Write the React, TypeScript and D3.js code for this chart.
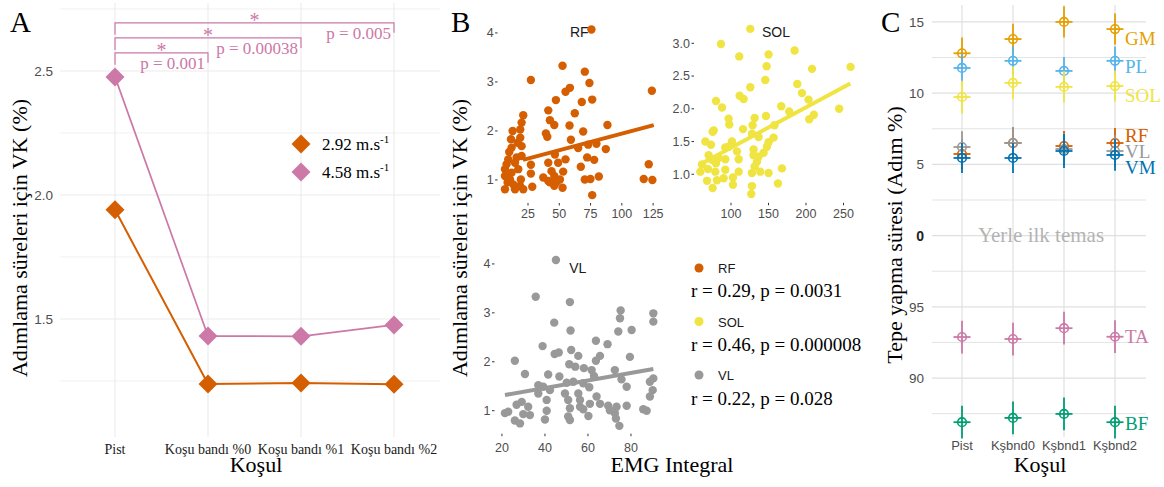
import React from "react";
import * as d3 from "d3";

// ---------------- Panel A data ----------------
const conditionsA = ["Pist", "Koşu bandı %0", "Koşu bandı %1", "Koşu bandı %2"];
const speedLabels = ["2.92", "4.58"];
const cvSlow = [1.94, 1.238, 1.242, 1.237];
const cvFast = [2.476, 1.431, 1.43, 1.476];
const yTicksA = [1.5, 2.0, 2.5];
const yMinorA = [1.25, 1.75, 2.25, 2.75];
const sigFrom = [0, 0, 0];
const sigTo = [1, 2, 3];
const sigLevel = [2.573, 2.633, 2.694];
const sigText = ["p = 0.001", "p = 0.00038", "p = 0.005"];

// ---------------- Panel B data ----------------
const rfX = [75.7, 52.6, 27.3, 70.4, 74.1, 58.5, 55, 124, 47.3, 68, 76.3, 62.4, 41.2, 21.2, 42.5, 46, 58.2, 88.5, 69.1, 39.3, 40.4, 19.9, 18.8, 12.7, 11.4, 18.8, 59.3, 73.1, 79.7, 65.1, 87.2, 10.0, 19.9, 46.5, 41.2, 49.1, 55, 72.3, 77.9, 27.3, 67.2, 121.5, 7.9, 14.6, 17.2, 27.3, 43.8, 53.1, 37.2, 81.6, 70.4, 74.9, 117.5, 124.4, 42.5, 47.8, 52.6, 28.4, 76.3, 6.6, 6.6, 6.6, 10.6, 11.9, 13.2, 14.6, 18.6, 19.3, 19.9, 15.9, 9.2, 41.2, 46, 46, 50.5, 21.2, 8.7, 16.7, 11.9];
const rfY = [4.07, 3.33, 3.04, 3.21, 2.98, 2.88, 2.80, 2.82, 2.63, 2.59, 2.64, 2.36, 2.42, 2.32, 2.22, 2.12, 2.11, 2.12, 1.99, 1.95, 1.88, 2.17, 2.03, 2.0, 1.83, 1.86, 1.82, 1.72, 1.74, 1.65, 1.63, 1.57, 1.69, 1.52, 1.35, 1.35, 1.42, 1.46, 1.41, 1.31, 1.27, 1.32, 1.32, 1.35, 1.22, 1.13, 1.18, 1.17, 1.05, 1.07, 1.01, 1.02, 1.02, 1.0, 0.95, 0.96, 0.84, 0.86, 0.69, 1.22, 1.08, 0.81, 1.01, 1.15, 0.91, 0.81, 0.88, 1.01, 1.49, 1.46, 1.42, 0.98, 1.08, 0.88, 1.01, 0.81, 0.95, 1.76, 1.66];
const solX = [125.7, 86.6, 111, 150.1, 184.8, 147.5, 208, 259.4, 145.7, 125.7, 188.4, 194.6, 111.5, 116.8, 203.4, 80, 88, 167, 177.6, 244.2, 210.5, 204.3, 96.8, 97.7, 131.5, 146.6, 128.8, 116, 158, 76.9, 75.5, 65.8, 73.3, 101.3, 92.4, 128, 136.8, 156.8, 150.1, 147.9, 143.5, 130.1, 108, 70.2, 83.5, 92.4, 110.2, 130.1, 134.6, 80, 61.3, 69.3, 59.1, 79.1, 92.4, 131.5, 139, 150.1, 167.9, 127.9, 68, 75.5, 90.2, 102.6, 102.6, 127.9, 127, 162.6, 81.3, 110.2, 74.6, 136.8, 96.8];
const solY = [3.22, 2.99, 2.80, 2.83, 2.89, 2.65, 2.61, 2.64, 2.44, 2.33, 2.38, 2.24, 2.20, 2.15, 2.14, 2.12, 2.02, 2.04, 1.96, 2.00, 1.91, 1.84, 1.85, 1.76, 1.86, 1.89, 1.75, 1.69, 1.75, 1.67, 1.65, 1.50, 1.45, 1.50, 1.41, 1.62, 1.57, 1.56, 1.49, 1.42, 1.33, 1.38, 1.35, 1.29, 1.25, 1.23, 1.23, 1.29, 1.19, 1.17, 1.15, 1.08, 1.04, 1.04, 1.07, 1.12, 1.04, 1.02, 1.09, 1.02, 0.90, 0.79, 0.94, 0.95, 0.84, 0.82, 0.70, 0.86, 0.91, 1.04, 1.22, 1.27, 1.42];
const vlX = [45.1, 35.7, 51.6, 44.3, 51.9, 75.2, 74.9, 90.4, 90.4, 80.3, 74.1, 38.9, 63.7, 69.1, 44.5, 46.4, 52.2, 55.5, 65.6, 63.7, 26, 79.5, 51.3, 54.1, 58.1, 61.7, 72.5, 30.7, 41.5, 46.7, 62.8, 75.6, 90.4, 88.8, 36.9, 39.2, 50.1, 53.2, 57.8, 60.6, 36.9, 42.3, 49.3, 55.5, 78, 90.1, 88.8, 40.8, 50.8, 56.3, 64, 29.2, 26.8, 32.2, 60.9, 65.6, 69.4, 73.3, 78, 40.8, 51.6, 56.3, 21.4, 22.9, 33, 29.9, 70.2, 72.5, 85.7, 87.3, 26, 28.4, 40, 50.8, 51.6, 60.2, 73, 74.6, 57.8];
const vlY = [4.08, 3.33, 3.22, 2.80, 2.64, 3.05, 2.89, 2.99, 2.82, 2.65, 2.62, 2.32, 2.43, 2.36, 2.16, 2.19, 2.24, 2.12, 2.12, 2.02, 2.02, 2.10, 1.95, 1.90, 1.87, 1.83, 1.83, 1.75, 1.74, 1.70, 1.71, 1.64, 1.66, 1.59, 1.52, 1.49, 1.57, 1.59, 1.56, 1.48, 1.35, 1.42, 1.35, 1.35, 1.49, 1.42, 1.29, 1.22, 1.22, 1.22, 1.29, 1.18, 1.12, 1.08, 1.14, 1.14, 1.10, 1.08, 1.10, 1.00, 1.05, 1.08, 0.95, 0.98, 0.91, 0.93, 1.01, 0.95, 1.03, 1.00, 0.80, 0.74, 0.82, 0.88, 0.81, 0.89, 0.84, 0.69, 1.03];
// regression fits: [intercept, slope], x span
const rfFit = [1.266, 0.0068];
const rfFitSpan = [21, 125.5];
const solFit = [0.79, 0.00616];
const solFitSpan = [61, 259];
const vlFit = [1.156, 0.00768];
const vlFitSpan = [21.4, 90.4];
const rfXTicks = [25, 50, 75, 100, 125];
const rfYTicks = [1, 2, 3, 4];
const solXTicks = [100, 150, 200, 250];
const solYTicks = [1.0, 1.5, 2.0, 2.5, 3.0];
const vlXTicks = [20, 40, 60, 80];
const vlYTicks = [1, 2, 3, 4];
const corrMuscles = ["RF", "SOL", "VL"];
const corrText = ["r = 0.29, p = 0.0031", "r = 0.46, p = 0.000008", "r = 0.22, p = 0.028"];

// ---------------- Panel C data ----------------
const conditionsC = ["Pist", "Kşbnd0", "Kşbnd1", "Kşbnd2"];
const musclesC = ["GM", "PL", "SOL", "RF", "VL", "VM", "TA", "BF"];
const gmMean = [12.8, 13.8, 15.0, 14.5];
const plMean = [11.77, 12.27, 11.56, 12.27];
const solMean = [9.73, 10.72, 10.44, 10.5];
const rfMean = [5.73, 6.5, 6.29, 6.5];
const vlMean = [6.22, 6.5, 6.08, 5.94];
const vmMean = [5.45, 5.45, 5.94, 5.66];
const taMean = [92.88, 92.74, 93.5, 92.9];
const bfMean = [86.9, 87.2, 87.48, 86.9];
const gmSd = [1.1, 1.08, 1.1, 1.1];
const plSd = [1.0, 1.0, 0.98, 1.0];
const solSd = [1.15, 1.15, 1.1, 1.1];
const rfSd = [1.05, 1.1, 1.05, 1.05];
const vlSd = [1.1, 1.1, 1.1, 1.1];
const vmSd = [1.05, 1.05, 1.2, 1.1];
const taSd = [1.15, 1.15, 1.15, 1.15];
const bfSd = [1.15, 1.15, 1.15, 1.15];
const yTicksC = [-10, -5, 0, 5, 10, 15];
const yMinorC = [-12.5, -7.5, -2.5, 2.5, 7.5, 12.5];

// ---------------- styling ----------------
const SERIF = "'Liberation Serif', 'Times New Roman', serif";
const SANS = "'Liberation Sans', Arial, sans-serif";
const C_RF = "#D55E00";
const C_PINK = "#CC79A7";
const muscleColor: Record<string, string> = {
  GM: "#E69F00", PL: "#56B4E9", SOL: "#F0E442", RF: "#D55E00",
  VL: "#999999", VM: "#0072B2", TA: "#CC79A7", BF: "#009E73",
};
const TICK_GREY = "#4D4D4D";

const diamond = (s: number) => `M0,${-s}L${s},0L0,${s}L${-s},0Z`;

type ScatterProps = {
  xs: number[]; ys: number[]; color: string;
  xDom: number[]; xRange: number[]; yDom: number[]; yRange: number[];
  xTicks: number[]; yTicks: number[]; yFmt: (v: number) => string;
  fit: number[]; fitSpan: number[]; label: string; labelY: number; tickBaseline: number;
};

function Scatter(p: ScatterProps) {
  const x = d3.scaleLinear().domain(p.xDom).range(p.xRange);
  const y = d3.scaleLinear().domain(p.yDom).range(p.yRange);
  const line = d3.line<number>().x((v) => x(v)).y((v) => y(p.fit[0] + p.fit[1] * v));
  const left = p.xRange[0];
  const bottom = p.yRange[0];
  return (
    <g>
      {p.yTicks.map((t) => (
        <g key={"y" + t}>
          <text x={left - 5} y={y(t)} dy="0.35em" textAnchor="end" fontFamily={SANS} fontSize={12.5} fill={TICK_GREY}>
            {p.yFmt(t)}
          </text>
          <line x1={left - 3.5} x2={left - 1} y1={y(t)} y2={y(t)} stroke="#333" strokeWidth={1} />
        </g>
      ))}
      {p.xTicks.map((t) => (
        <g key={"x" + t}>
          <line x1={x(t)} x2={x(t)} y1={bottom + 1} y2={bottom + 3.5} stroke="#333" strokeWidth={1} />
          <text x={x(t)} y={p.tickBaseline} textAnchor="middle" fontFamily={SANS} fontSize={12.5} fill={TICK_GREY}>
            {t}
          </text>
        </g>
      ))}
      <text x={(p.xRange[0] + p.xRange[1]) / 2} y={p.labelY} textAnchor="middle" fontFamily={SANS} fontSize={14} fill="#1A1A1A">
        {p.label}
      </text>
      {p.xs.map((v, i) => (
        <circle key={i} cx={x(v)} cy={y(p.ys[i])} r={4.2} fill={p.color} />
      ))}
      <path d={line(p.fitSpan) || ""} stroke={p.color} strokeWidth={4} fill="none" />
    </g>
  );
}

export default function App() {
  const W = 1164, H = 487;

  // ---- Panel A scales
  const xA = d3.scalePoint<string>().domain(conditionsA).range([115, 394]);
  const yA = d3.scaleLinear().domain([1.024, 2.774]).range([437, 3]);
  const plotA = { l: 60, r: 440, t: 3, b: 437 };
  const lineA = d3.line<number>().x((_, i) => xA(conditionsA[i]) as number).y((v) => yA(v));

  // ---- Panel C scales
  const xC = d3.scalePoint<string>().domain(conditionsC).range([962, 1115]);
  const yC = d3.scaleLinear().domain([-14.35, 16.19]).range([440, 5]);
  const cy = (v: number) => yC(v > 50 ? v - 100 : v);
  const plotC = { l: 932, r: 1146, t: 5, b: 437 };
  const meansC = [gmMean, plMean, solMean, rfMean, vlMean, vmMean, taMean, bfMean];
  const sdsC = [gmSd, plSd, solSd, rfSd, vlSd, vmSd, taSd, bfSd];
  const labelNudgeC = [9.4, 5.6, 9.4, -7.5, 0.5, 12.5, 0, 1.4];

  const legendA = [cvSlow, cvFast];
  const colorsA = [C_RF, C_PINK];

  return (
    <svg width={W} height={H} style={{ position: "absolute", left: 0, top: 0, background: "#fff" }}>
      <rect x={0} y={0} width={W} height={H} fill="#fff" />

      {/* ================= PANEL A ================= */}
      <g>
        {yMinorA.map((t) => (
          <line key={"mn" + t} x1={plotA.l} x2={plotA.r} y1={yA(t)} y2={yA(t)} stroke="#EDEDED" strokeWidth={0.8} />
        ))}
        {yTicksA.map((t) => (
          <line key={"mj" + t} x1={plotA.l} x2={plotA.r} y1={yA(t)} y2={yA(t)} stroke="#EBEBEB" strokeWidth={1.1} />
        ))}
        {conditionsA.map((c) => (
          <line key={"vg" + c} x1={xA(c)} x2={xA(c)} y1={plotA.t} y2={plotA.b} stroke="#EBEBEB" strokeWidth={1.1} />
        ))}
        {yTicksA.map((t) => (
          <text key={"yl" + t} x={53} y={yA(t)} dy="0.35em" textAnchor="end" fontFamily={SANS} fontSize={13.5} fill={TICK_GREY}>
            {t.toFixed(1)}
          </text>
        ))}
        {conditionsA.map((c) => (
          <text key={"xl" + c} x={xA(c)} y={454} textAnchor="middle" fontFamily={SERIF} fontSize={14} fill="#1A1A1A">
            {c}
          </text>
        ))}
        <text x={256} y={472} textAnchor="middle" fontFamily={SERIF} fontSize={22} fill="#000">Koşul</text>
        <text transform={`translate(27,238) rotate(-90)`} textAnchor="middle" fontFamily={SERIF} fontSize={22} fill="#000">
          Adımlama süreleri için VK  (%)
        </text>
        <text x={10} y={32} fontFamily={SERIF} fontSize={29} fill="#000">A</text>

        {/* significance brackets */}
        {sigFrom.map((f, i) => {
          const x1 = xA(conditionsA[f]) as number;
          const x2 = xA(conditionsA[sigTo[i]]) as number;
          const yy = yA(sigLevel[i]);
          return (
            <g key={"sig" + i}>
              <path d={`M${x1},${yy + 12}V${yy}H${x2}V${yy + 10}`} fill="none" stroke={C_PINK} strokeWidth={1.2} />
              <text x={(x1 + x2) / 2} y={yy + 4} textAnchor="middle" fontFamily={SERIF} fontSize={20} fill={C_PINK}>*</text>
              <text x={x2 - 3} y={yy + 16} textAnchor="end" fontFamily={SERIF} fontSize={17} fill={C_PINK}>{sigText[i]}</text>
            </g>
          );
        })}

        {/* lines and points */}
        {legendA.map((vals, k) => (
          <g key={"ser" + k}>
            <path d={lineA(vals) || ""} fill="none" stroke={colorsA[k]} strokeWidth={k === 0 ? 2 : 1.7} />
            {vals.map((v, i) => (
              <path key={i} d={diamond(9.5)} transform={`translate(${xA(conditionsA[i])},${yA(v)})`} fill={colorsA[k]} />
            ))}
          </g>
        ))}

        {/* legend */}
        {speedLabels.map((s, k) => (
          <g key={"lg" + s}>
            <path d={diamond(9.5)} transform={`translate(301,${144 + k * 28})`} fill={colorsA[k]} />
            <text x={322} y={150 + k * 28} fontFamily={SERIF} fontSize={17} fill="#000">
              {s} m.s<tspan dy={-7} fontSize={11}>-1</tspan>
            </text>
          </g>
        ))}
      </g>

      {/* ================= PANEL B ================= */}
      <g>
        <text x={451} y={32} fontFamily={SERIF} fontSize={29} fill="#000">B</text>
        <text transform={`translate(467,238) rotate(-90)`} textAnchor="middle" fontFamily={SERIF} fontSize={22} fill="#000">
          Adımlama süreleri için VK  (%)
        </text>
        <text x={672} y={472} textAnchor="middle" fontFamily={SERIF} fontSize={22} fill="#000">EMG Integral</text>

        <Scatter xs={rfX} ys={rfY} color={muscleColor.RF}
          xDom={[1.5, 130.5]} xRange={[498.6, 660]} yDom={[0.55, 4.25]} yRange={[202, 20.7]}
          xTicks={rfXTicks} yTicks={rfYTicks} yFmt={(v) => String(v)}
          fit={rfFit} fitSpan={rfFitSpan} label="RF" labelY={37} tickBaseline={218} />
        <Scatter xs={solX} ys={solY} color={muscleColor.SOL}
          xDom={[52, 268]} xRange={[695, 857]} yDom={[0.58, 3.33]} yRange={[201.8, 21.7]}
          xTicks={solXTicks} yTicks={solYTicks} yFmt={(v) => v.toFixed(1)}
          fit={solFit} fitSpan={solFitSpan} label="SOL" labelY={37} tickBaseline={218} />
        <Scatter xs={vlX} ys={vlY} color={muscleColor.VL}
          xDom={[17, 93.5]} xRange={[495.5, 660]} yDom={[0.55, 4.25]} yRange={[432.7, 251.7]}
          xTicks={vlXTicks} yTicks={vlYTicks} yFmt={(v) => String(v)}
          fit={vlFit} fitSpan={vlFitSpan} label="VL" labelY={273} tickBaseline={452} />

        {corrMuscles.map((m, k) => (
          <g key={"cl" + m}>
            <circle cx={699} cy={268 + k * 53.5} r={4.5} fill={muscleColor[m]} />
            <text x={718} y={273 + k * 53.5} fontFamily={SANS} fontSize={13} fill="#1A1A1A">{m}</text>
            <text x={691} y={297 + k * 54} fontFamily={SERIF} fontSize={19} fill="#000">{corrText[k]}</text>
          </g>
        ))}
      </g>

      {/* ================= PANEL C ================= */}
      <g>
        {yMinorC.map((t) => (
          <line key={"cmn" + t} x1={plotC.l} x2={plotC.r} y1={yC(t)} y2={yC(t)} stroke="#E3E3E3" strokeWidth={1} />
        ))}
        {yTicksC.map((t) => (
          <line key={"cmj" + t} x1={plotC.l} x2={plotC.r} y1={yC(t)} y2={yC(t)} stroke="#E0E0E0" strokeWidth={1.2} />
        ))}
        {conditionsC.map((c) => (
          <line key={"cvg" + c} x1={xC(c)} x2={xC(c)} y1={plotC.t} y2={plotC.b} stroke="#E0E0E0" strokeWidth={1.2} />
        ))}
        {yTicksC.map((t) => (
          <text key={"cyl" + t} x={924} y={yC(t)} dy="0.35em" textAnchor="end" fontFamily={SANS}
            fontSize={t === 0 ? 14 : 13.5} fontWeight={t === 0 ? "bold" : "normal"} fill={t === 0 ? "#222" : TICK_GREY}>
            {t < 0 ? t + 100 : t}
          </text>
        ))}
        <text x={1041} y={yC(0)} dy="0.32em" textAnchor="middle" fontFamily={SERIF} fontSize={21} fill="#B3B3B3">
          Yerle ilk temas
        </text>
        {conditionsC.map((c) => (
          <text key={"cxl" + c} x={xC(c)} y={450} textAnchor="middle" fontFamily={SANS} fontSize={13} fill={TICK_GREY}>
            {c}
          </text>
        ))}
        <text x={1040} y={472} textAnchor="middle" fontFamily={SERIF} fontSize={22} fill="#000">Koşul</text>
        <text transform={`translate(902,235) rotate(-90)`} textAnchor="middle" fontFamily={SERIF} fontSize={22} fill="#000">
          Tepe yapma süresi (Adım %)
        </text>
        <text x={881} y={32} fontFamily={SERIF} fontSize={29} fill="#000">C</text>

        {musclesC.map((m, k) => {
          const col = muscleColor[m];
          const vals = meansC[k];
          const sds = sdsC[k];
          return (
            <g key={"mc" + m}>
              {vals.map((v, i) => {
                const px = xC(conditionsC[i]) as number;
                return (
                  <g key={i}>
                    <line x1={px} x2={px} y1={cy(v - sds[i])} y2={cy(v + sds[i])} stroke={col} strokeWidth={1.8} />
                    <line x1={px - 8.5} x2={px + 8.5} y1={cy(v)} y2={cy(v)} stroke={col} strokeWidth={1.8} />
                    <circle cx={px} cy={cy(v)} r={4.3} fill="none" stroke={col} strokeWidth={1.6} />
                  </g>
                );
              })}
              <text x={(xC(conditionsC[3]) as number) + 10} y={cy(vals[3]) + labelNudgeC[k]} dy="0.33em"
                fontFamily={SERIF} fontSize={19} fill={col}>
                {m}
              </text>
            </g>
          );
        })}
      </g>
    </svg>
  );
}
